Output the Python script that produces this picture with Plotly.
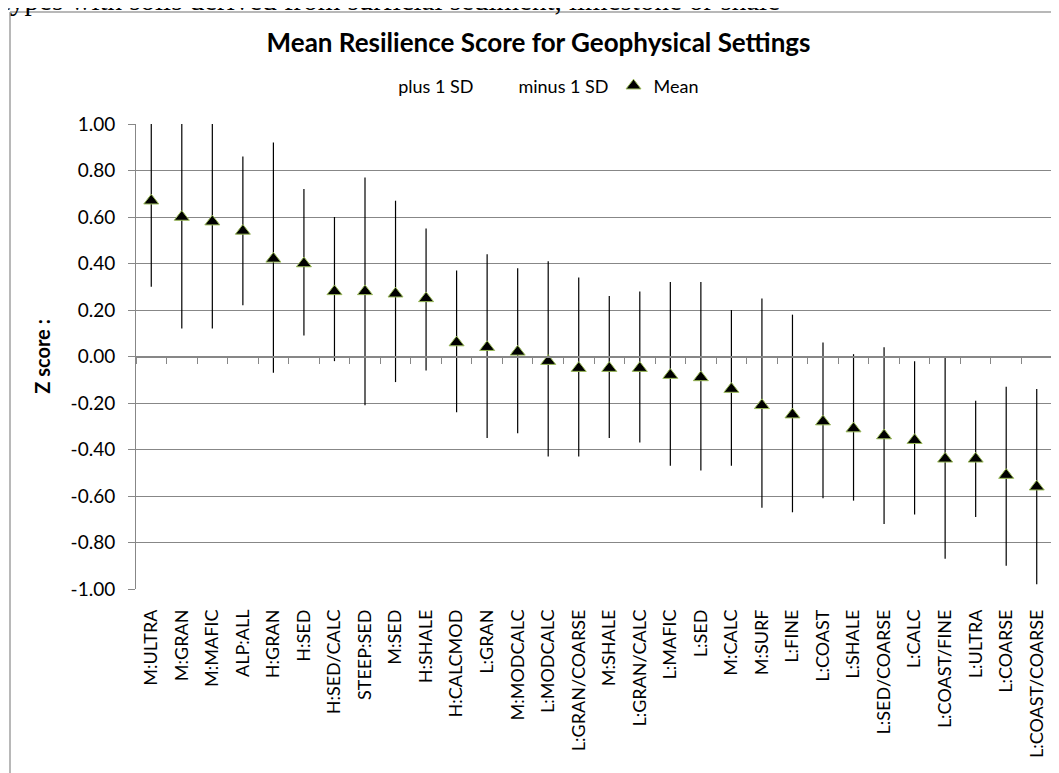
import plotly.graph_objects as go

categories = [
    "M:ULTRA", "M:GRAN", "M:MAFIC", "ALP:ALL", "H:GRAN", "H:SED", "H:SED/CALC",
    "STEEP:SED", "M:SED", "H:SHALE", "H:CALCMOD", "L:GRAN", "M:MODCALC",
    "L:MODCALC", "L:GRAN/COARSE", "M:SHALE", "L:GRAN/CALC", "L:MAFIC", "L:SED",
    "M:CALC", "M:SURF", "L:FINE", "L:COAST", "L:SHALE", "L:SED/COARSE",
    "L:CALC", "L:COAST/FINE", "L:ULTRA", "L:COARSE", "L:COAST/COARSE",
]
mean = [0.67, 0.60, 0.58, 0.54, 0.42, 0.40, 0.28, 0.28, 0.27, 0.25, 0.06,
        0.04, 0.02, -0.02, -0.05, -0.05, -0.05, -0.08, -0.09, -0.14, -0.21,
        -0.25, -0.28, -0.31, -0.34, -0.36, -0.44, -0.44, -0.51, -0.56]
plus_sd = [1.04, 1.08, 1.04, 0.86, 0.92, 0.72, 0.60, 0.77, 0.67, 0.55, 0.37,
           0.44, 0.38, 0.41, 0.34, 0.26, 0.28, 0.32, 0.32, 0.20, 0.25, 0.18,
           0.06, 0.01, 0.04, -0.02, 0.00, -0.19, -0.13, -0.14]
minus_sd = [0.30, 0.12, 0.12, 0.22, -0.07, 0.09, -0.02, -0.21, -0.11, -0.06,
            -0.24, -0.35, -0.33, -0.43, -0.43, -0.35, -0.37, -0.47, -0.49,
            -0.47, -0.65, -0.67, -0.61, -0.62, -0.72, -0.68, -0.87, -0.69,
            -0.90, -0.98]
y_ticks = [-1.0, -0.8, -0.6, -0.4, -0.2, 0.0, 0.2, 0.4, 0.6, 0.8, 1.0]

FONT = "Lato"
GRID = "#878787"

# high-low lines between the two SD series
seg_x, seg_y = [], []
for c, hi, lo in zip(categories, plus_sd, minus_sd):
    seg_x += [c, c, None]
    seg_y += [lo, hi, None]

fig = go.Figure()
fig.add_trace(go.Scatter(x=categories, y=plus_sd, mode="lines", name="plus 1 SD",
                         line=dict(width=0, color="rgba(0,0,0,0)"), hoverinfo="skip"))
fig.add_trace(go.Scatter(x=categories, y=minus_sd, mode="lines", name="minus 1 SD",
                         line=dict(width=0, color="rgba(0,0,0,0)"), hoverinfo="skip"))
fig.add_trace(go.Scatter(x=seg_x, y=seg_y, mode="lines", showlegend=False,
                         line=dict(color="black", width=1.2), hoverinfo="skip"))
fig.add_trace(go.Scatter(x=categories, y=mean, mode="markers", name="Mean",
                         marker=dict(symbol="triangle-up", size=13, color="black",
                                     line=dict(color="#9BBB59", width=1))))
# category axis crossing at zero, with tick marks between categories
n = len(categories)
fig.add_trace(go.Scatter(x=[-0.5, n - 0.5], y=[0, 0], xaxis="x2", mode="lines",
                         line=dict(color=GRID, width=1), showlegend=False,
                         hoverinfo="skip"))

# the html page puts the figure 8px in from the top-left corner
fig.update_layout(
    width=1059, height=773,
    margin=dict(l=128, r=15, t=116, b=192, autoexpand=False),
    paper_bgcolor="white", plot_bgcolor="white",
    font=dict(family=FONT, size=19, color="black"),
    title=dict(text="<b>Mean Resilience Score for Geophysical Settings</b>",
               font=dict(family=FONT, size=26, color="black"),
               x=0.501, xanchor="center", y=1 - 35 / 773, yanchor="middle"),
    legend=dict(orientation="h", xref="container", yref="container",
                x=0.494, xanchor="center", y=1 - 78 / 773, yanchor="middle",
                font=dict(size=18), bgcolor="rgba(0,0,0,0)",
                itemwidth=30, traceorder="normal"),
    xaxis=dict(type="category", categoryorder="array", categoryarray=categories,
               range=[-0.5, n - 0.5], tickangle=-90, showgrid=False,
               showline=False, ticks="", ticklabelstandoff=16,
               tickfont=dict(size=18), automargin=False),
    xaxis2=dict(overlaying="x", anchor="free", position=0.5,
                range=[-0.5, n - 0.5], showgrid=False, showline=True,
                linecolor=GRID, ticks="outside", ticklen=6, tickcolor=GRID,
                tickvals=[i - 0.5 for i in range(n + 1)], showticklabels=False,
                zeroline=False, automargin=False),
    yaxis=dict(range=[-1, 1], tickvals=y_ticks,
               ticktext=[f"{v:.2f}" for v in y_ticks],
               showgrid=True, gridcolor=GRID, gridwidth=1, zeroline=False,
               showline=True, linecolor=GRID, ticks="outside", ticklen=7,
               tickcolor=GRID, ticklabelstandoff=9, tickfont=dict(size=19),
               automargin=False,
               title=dict(text="<b>Z score :</b>", font=dict(size=20), standoff=14)),
    showlegend=True,
)

# text of the surrounding document, cut off by the top of the picture
fig.add_annotation(text="types with soils derived from surficial sediment, limestone or shale",
                   xref="paper", yref="paper", x=-0.1485, y=1.227, xanchor="left",
                   yanchor="bottom", showarrow=False,
                   font=dict(family="Liberation Serif", size=29, color="black"))

# chart frame (left and top edges)
top = (589 - 12) / 465
left = (10 - 136) / 916
fig.add_shape(type="line", xref="paper", yref="paper", x0=left, x1=left,
              y0=top, y1=-0.5, line=dict(color="#A0A0A0", width=1.5))
fig.add_shape(type="line", xref="paper", yref="paper", x0=left, x1=1.2,
              y0=top, y1=top, line=dict(color="#A0A0A0", width=1.5))

fig.write_html("out.html")
